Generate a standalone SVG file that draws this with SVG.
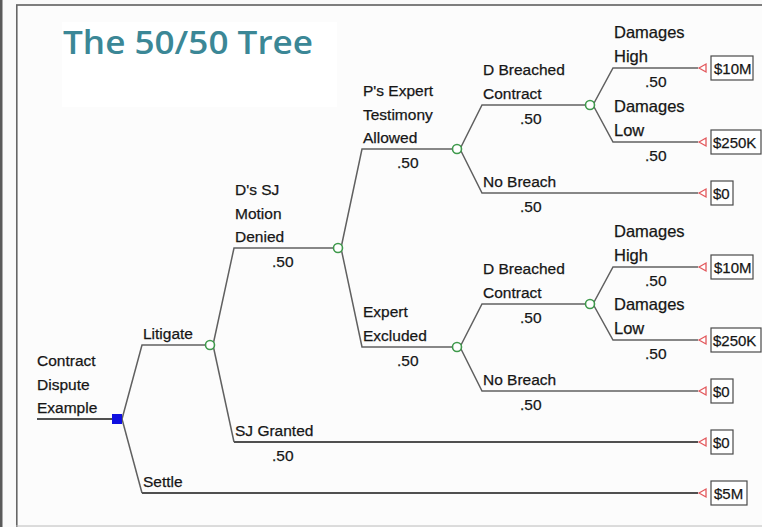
<svg xmlns="http://www.w3.org/2000/svg" width="762" height="527" viewBox="0 0 762 527">
<style>
.ln{fill:none;stroke:#606060;stroke-width:1.5}
.lt{fill:none;stroke:#505050;stroke-width:2.2}
.lb{font-family:"Liberation Sans",Arial,sans-serif;font-size:15.5px;fill:#161616;stroke:#161616;stroke-width:0.25}
.dm{font-family:"Liberation Sans",Arial,sans-serif;font-size:16.5px;fill:#161616;stroke:#161616;stroke-width:0.25}
.pay{font-family:"Liberation Sans",Arial,sans-serif;font-size:15px;fill:#161616;stroke:#161616;stroke-width:0.25}
.ch{fill:#fff;stroke:#3f9a4c;stroke-width:1.6}
.tri{fill:#fff;stroke:#e2585c;stroke-width:1.3}
.box{fill:#fff;stroke:#4a4a4a;stroke-width:1.2}
</style>
<rect x="0" y="0" width="762" height="527" fill="#fafafa"/>
<rect x="0" y="0" width="2.5" height="527" fill="#5a5a5a"/>
<rect x="16.5" y="5" width="746" height="521" fill="#fcfcfc" stroke="none"/>
<line x1="16" y1="5" x2="762" y2="5" stroke="#555" stroke-width="1.6"/>
<line x1="16.8" y1="5" x2="16.8" y2="527" stroke="#666" stroke-width="1.6"/>
<line x1="16" y1="526" x2="762" y2="526" stroke="#bbb" stroke-width="1.2"/>
<rect x="62" y="22" width="275" height="85" fill="#ffffff"/>
<text x="63" y="54" font-family="'Open Sans',Lato,sans-serif" font-weight="600" font-size="32" fill="#3b8796" textLength="250" lengthAdjust="spacingAndGlyphs">The 50/50 Tree</text>

<g id="connectors">
<line class="lt" x1="37" y1="419" x2="113" y2="419"/>
<polyline class="ln" points="122,419 142,345 206,345"/>
<polyline class="ln" points="122,419 142,493"/>
<line class="lt" x1="142" y1="493" x2="698" y2="493"/>
<polyline class="ln" points="213,345 234,248 334,248"/>
<polyline class="ln" points="213,345 234,442"/>
<line class="lt" x1="234" y1="442" x2="698" y2="442"/>
<polyline class="ln" points="341,248 362,149 453,149"/>
<polyline class="ln" points="341,248 362,347 453,347"/>
<polyline class="ln" points="460,149 482,105 586,105"/>
<polyline class="ln" points="460,149 482,193 698,193"/>
<polyline class="ln" points="593,105 613,68 698,68"/>
<polyline class="ln" points="593,105 613,142 698,142"/>
<polyline class="ln" points="460,347 482,304 586,304"/>
<polyline class="ln" points="460,347 482,391 698,391"/>
<polyline class="ln" points="593,304 613,267 698,267"/>
<polyline class="ln" points="593,304 613,340 698,340"/>
</g>

<g id="root">
<rect x="112" y="414" width="10" height="10" fill="#1010e0"/>
<text class="lb" x="37" y="366">Contract</text>
<text class="lb" x="37" y="390">Dispute</text>
<text class="lb" x="37" y="413">Example</text>
</g>
<g id="litigate">
<circle class="ch" cx="210" cy="345" r="4.5"/>
<text class="lb" x="143" y="339">Litigate</text>
</g>
<g id="settle">
<text class="lb" x="143" y="487">Settle</text>
</g>
<g id="sj-denied">
<circle class="ch" cx="338" cy="248" r="4.5"/>
<text class="lb" x="235" y="195">D's SJ</text>
<text class="lb" x="235" y="219">Motion</text>
<text class="lb" x="235" y="242">Denied</text>
<text class="lb" x="272" y="267">.50</text>
</g>
<g id="sj-granted">
<text class="lb" x="235" y="436">SJ Granted</text>
<text class="lb" x="272" y="461">.50</text>
</g>
<g id="expert-allowed">
<circle class="ch" cx="457" cy="149" r="4.5"/>
<text class="lb" x="363" y="96">P's Expert</text>
<text class="lb" x="363" y="120">Testimony</text>
<text class="lb" x="363" y="143">Allowed</text>
<text class="lb" x="397" y="168">.50</text>
</g>
<g id="expert-excluded">
<circle class="ch" cx="457" cy="347" r="4.5"/>
<text class="lb" x="363" y="317">Expert</text>
<text class="lb" x="363" y="341">Excluded</text>
<text class="lb" x="397" y="366">.50</text>
</g>
<g id="breach-a">
<circle class="ch" cx="590" cy="105" r="4.5"/>
<text class="lb" x="483" y="75">D Breached</text>
<text class="lb" x="483" y="99">Contract</text>
<text class="lb" x="520" y="124">.50</text>
</g>
<g id="nobreach-a">
<text class="lb" x="483" y="187">No Breach</text>
<text class="lb" x="520" y="212">.50</text>
</g>
<g id="high-a">
<text class="dm" x="614" y="38">Damages</text>
<text class="dm" x="614" y="62">High</text>
<text class="lb" x="645" y="87">.50</text>
</g>
<g id="low-a">
<text class="dm" x="614" y="112">Damages</text>
<text class="dm" x="614" y="136">Low</text>
<text class="lb" x="645" y="161">.50</text>
</g>
<g id="breach-b">
<circle class="ch" cx="590" cy="304" r="4.5"/>
<text class="lb" x="483" y="274">D Breached</text>
<text class="lb" x="483" y="298">Contract</text>
<text class="lb" x="520" y="323">.50</text>
</g>
<g id="nobreach-b">
<text class="lb" x="483" y="385">No Breach</text>
<text class="lb" x="520" y="410">.50</text>
</g>
<g id="high-b">
<text class="dm" x="614" y="237">Damages</text>
<text class="dm" x="614" y="261">High</text>
<text class="lb" x="645" y="286">.50</text>
</g>
<g id="low-b">
<text class="dm" x="614" y="310">Damages</text>
<text class="dm" x="614" y="334">Low</text>
<text class="lb" x="645" y="359">.50</text>
</g>

<g id="payoff-1">
<polygon class="tri" points="699,68 706,64 706,72"/>
<rect class="box" x="711" y="56" width="42" height="24"/>
<text class="pay" x="714" y="73.5">$10M</text>
</g>
<g id="payoff-2">
<polygon class="tri" points="699,142 706,138 706,146"/>
<rect class="box" x="711" y="130" width="50" height="24"/>
<text class="pay" x="713" y="147.5">$250K</text>
</g>
<g id="payoff-3">
<polygon class="tri" points="699,193 706,189 706,197"/>
<rect class="box" x="711" y="181" width="22" height="24"/>
<text class="pay" x="713" y="198.5">$0</text>
</g>
<g id="payoff-4">
<polygon class="tri" points="699,267 706,263 706,271"/>
<rect class="box" x="711" y="255" width="42" height="24"/>
<text class="pay" x="714" y="272.5">$10M</text>
</g>
<g id="payoff-5">
<polygon class="tri" points="699,340 706,336 706,344"/>
<rect class="box" x="711" y="328" width="50" height="24"/>
<text class="pay" x="713" y="345.5">$250K</text>
</g>
<g id="payoff-6">
<polygon class="tri" points="699,391 706,387 706,395"/>
<rect class="box" x="711" y="379" width="22" height="24"/>
<text class="pay" x="713" y="396.5">$0</text>
</g>
<g id="payoff-7">
<polygon class="tri" points="699,442 706,438 706,446"/>
<rect class="box" x="711" y="430" width="22" height="24"/>
<text class="pay" x="713" y="447.5">$0</text>
</g>
<g id="payoff-8">
<polygon class="tri" points="699,493 706,489 706,497"/>
<rect class="box" x="711" y="481" width="36" height="24"/>
<text class="pay" x="714" y="498.5">$5M</text>
</g>
</svg>
